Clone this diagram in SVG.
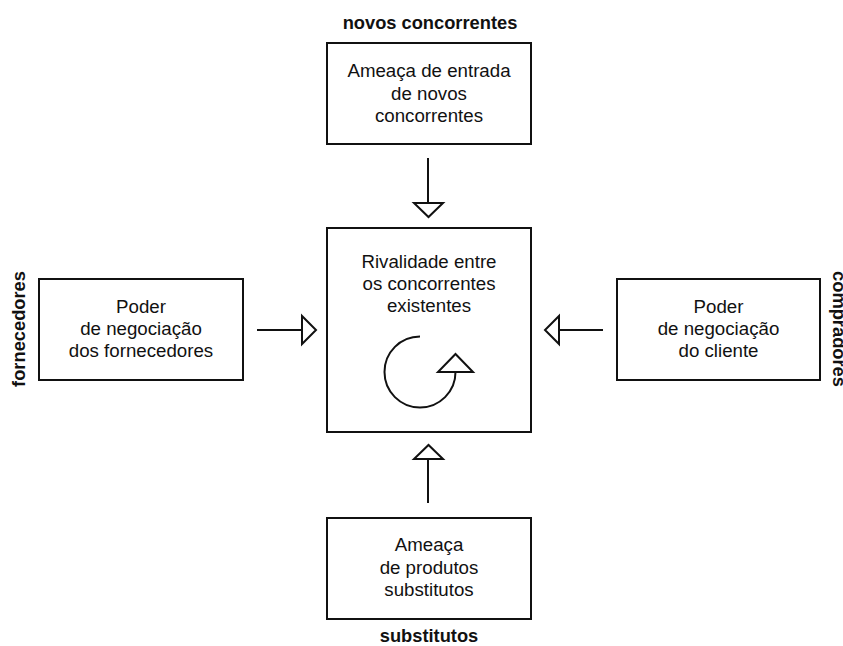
<svg xmlns="http://www.w3.org/2000/svg" width="843" height="646" viewBox="0 0 843 646">
<style>
.box{fill:#fff;stroke:#111;stroke-width:2}
.t{font-family:"Liberation Sans",Arial,sans-serif;font-size:18.7px;fill:#111;text-anchor:middle}
.lb{font-family:"Liberation Sans",Arial,sans-serif;font-size:18.3px;font-weight:bold;fill:#111;text-anchor:middle}
.ln{fill:none;stroke:#111;stroke-width:2}
.hd{fill:#fff;stroke:#111;stroke-width:2;stroke-linejoin:miter}
</style>
<rect width="843" height="646" fill="#fff"/>
<g id="labels">
<text class="lb" x="430" y="29">novos concorrentes</text>
<text class="lb" x="429" y="642">substitutos</text>
<text class="lb" transform="translate(25,329) rotate(-90)">fornecedores</text>
<text class="lb" transform="translate(833,329) rotate(90)">compradores</text>
</g>
<g id="node-top">
<rect class="box" x="327" y="43" width="204" height="101"/>
<text class="t" x="429" y="77">Ameaça de entrada</text>
<text class="t" x="429" y="99.5">de novos</text>
<text class="t" x="429" y="122">concorrentes</text>
</g>
<g id="node-center">
<rect class="box" x="327" y="228" width="204" height="204"/>
<text class="t" x="429" y="268">Rivalidade entre</text>
<text class="t" x="429" y="290">os concorrentes</text>
<text class="t" x="429" y="312">existentes</text>
<path class="ln" d="M420,336.5 A35.5,35.5 0 1 0 455.5,372"/>
<polygon class="hd" points="438,372 473,372 455.5,354"/>
</g>
<g id="node-left">
<rect class="box" x="39" y="279" width="204" height="101"/>
<text class="t" x="141" y="313">Poder</text>
<text class="t" x="141" y="335">de negociação</text>
<text class="t" x="141" y="357">dos fornecedores</text>
</g>
<g id="node-right">
<rect class="box" x="617" y="279" width="203" height="101"/>
<text class="t" x="718.5" y="313">Poder</text>
<text class="t" x="718.5" y="335">de negociação</text>
<text class="t" x="718.5" y="357">do cliente</text>
</g>
<g id="node-bottom">
<rect class="box" x="327" y="518" width="204" height="101"/>
<text class="t" x="429" y="551">Ameaça</text>
<text class="t" x="429" y="573.5">de produtos</text>
<text class="t" x="429" y="596">substitutos</text>
</g>
<g id="connectors">
<line class="ln" x1="428" y1="158" x2="428" y2="203"/>
<polygon class="hd" points="414,203 443,203 428.5,217"/>
<line class="ln" x1="428" y1="503" x2="428" y2="459"/>
<polygon class="hd" points="414,459 443,459 428.5,445"/>
<line class="ln" x1="257" y1="330" x2="302" y2="330"/>
<polygon class="hd" points="302,316 302,344 316,330"/>
<line class="ln" x1="603" y1="330" x2="559" y2="330"/>
<polygon class="hd" points="559,316 559,344 545,330"/>
</g>
</svg>
